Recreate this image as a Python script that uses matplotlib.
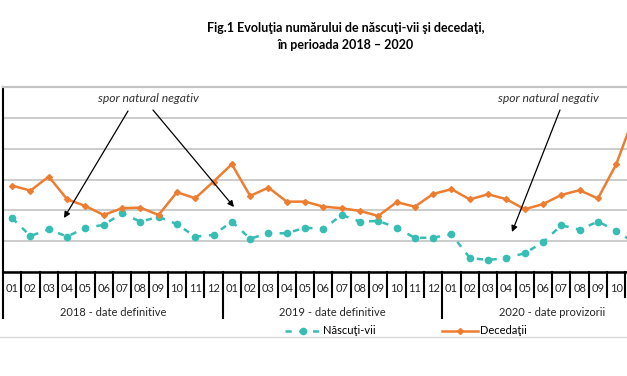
import matplotlib
matplotlib.use("Agg")
import matplotlib.pyplot as plt
from matplotlib.lines import Line2D


OUTPUT_FILE = "out.png"
W, H = 627, 376
FONT = ["Lato", "DejaVu Sans"]

MONTHS = ["01", "02", "03", "04", "05", "06", "07", "08", "09", "10", "11", "12"] * 3
YEARS = ["2018 - date definitive", "2019 - date definitive", "2020 - date provizorii"]

# monthly values (Dec 2020 lies outside the visible area)
nascuti_vii = [18720, 15840, 16930, 15730, 17190, 17630, 19530, 18170, 18930, 17760, 15730, 16010,
               18170, 15410, 16280, 16280, 17190, 16980, 19250, 18170, 18280, 17190, 15520, 15570,
               16120, 12270, 11950, 12270, 13040, 14820, 17580, 16870, 18170, 16700, 14710]
decedati = [24010, 23200, 25470, 21800, 20700, 19250, 20340, 20440, 19250, 22940, 21960, 24660,
            27480, 22340, 23690, 21410, 21410, 20600, 20340, 19900, 19090, 21320, 20600, 22660,
            23430, 21770, 22610, 21800, 20180, 21010, 22500, 23260, 21920, 27480, 35490]

TEAL = "#36BDB4"
ORANGE = "#ED7D31"


def px(x, y):
    # pixel position (from top-left) -> figure fraction
    return x / W, 1 - y / H


def main():
    fig = plt.figure(figsize=(W / 100, H / 100), dpi=100)
    # plot area runs past the right edge, like the cropped original
    ax = fig.add_axes([3 / W, 104 / H, 659 / W, 185 / H])

    x = [i + 0.5 for i in range(len(decedati))]
    ax.plot(x, nascuti_vii, color=TEAL, lw=1.8, ls=(0, (2.5, 3)), marker="o", ms=4.5,
            label="Născuţi-vii", zorder=3)
    ax.plot(x, decedati, color=ORANGE, lw=1.8, marker="D", ms=3, label="Decedaţii", zorder=3)

    ax.set_xlim(0, len(MONTHS))
    ax.set_ylim(10000, 40000)
    ax.set_yticks(range(10000, 40001, 5000))
    ax.set_xticks([])
    ax.tick_params(left=False, labelleft=False)
    ax.grid(axis="y", color="#C4C4C4", lw=1.2)
    ax.set_axisbelow(True)

    ax.spines["right"].set_visible(False)
    ax.spines["top"].set_color("#C4C4C4")
    ax.spines["top"].set_linewidth(1.6)
    ax.spines["left"].set_linewidth(1.5)
    ax.spines["bottom"].set_linewidth(1.8)

    # category table under the axis
    tr = ax.get_xaxis_transform()
    y_month = -25 / 185
    y_year = -46 / 185
    for i, m in enumerate(MONTHS):
        if i % 12 == 0:
            ax.plot([i, i], [0, y_year], transform=tr, color="black", lw=1.5, clip_on=False)
        else:
            ax.plot([i, i], [0, y_month], transform=tr, color="black", lw=1.5, clip_on=False)
        # labels past the figure edge are not shown in the original
        if ax.transData.transform((i + 0.5, 0))[0] > W - 6:
            continue
        ax.text(i + 0.5, -17 / 185, m, transform=tr, ha="center", va="center",
                fontsize=8, family=FONT, color="#262626")
    for k, yr in enumerate(YEARS):
        ax.text(12 * k + 6, -40 / 185, yr, transform=tr, ha="center", va="center",
                fontsize=8, family=FONT, color="#262626")

    fig.legend(loc="center", bbox_to_anchor=(406 / W, 1 - 331 / H), ncol=2, frameon=False,
               handlelength=3.2, columnspacing=6.0, handletextpad=0.2,
               prop={"family": FONT, "size": 8})

    fig.add_artist(Line2D([0, 1], [1 - 337 / H] * 2, color="#D9D9D9", lw=1))

    fig.text(*px(346, 28), "Fig.1 Evoluţia numărului de născuţi-vii şi decedaţi,",
             ha="center", va="center", fontsize=9, fontweight="bold", family=FONT)
    fig.text(*px(346, 45), "în perioada 2018 – 2020",
             ha="center", va="center", fontsize=9, fontweight="bold", family=FONT)

    # annotations
    arrow = dict(arrowstyle="-|>", color="black", lw=0.9, mutation_scale=9, shrinkA=0, shrinkB=0)
    for cx in [148, 548]:
        fig.text(*px(cx, 99), "spor natural negativ", ha="center", va="center",
                 fontsize=8.7, style="italic", family=FONT, color="#333333")
    for start, end in [((128, 111), (64, 218)), ((153, 110), (234, 207)), ((560, 110), (512, 232))]:
        ax.annotate("", xy=px(*end), xytext=px(*start), xycoords="figure fraction",
                    textcoords="figure fraction", arrowprops=arrow)

    fig.savefig(OUTPUT_FILE, dpi=100)
    plt.close(fig)


if __name__ == "__main__":
    main()
    print("Done")
